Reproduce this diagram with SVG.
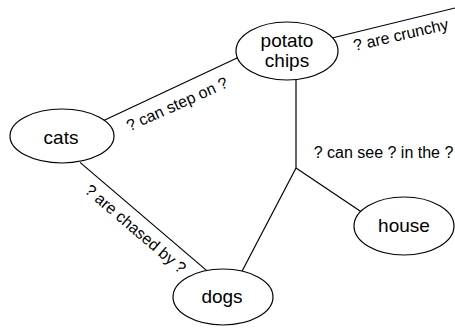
<svg xmlns="http://www.w3.org/2000/svg" width="455" height="329" viewBox="0 0 455 329">
<style>
.node ellipse{fill:#fff;stroke:#000;stroke-width:1.2}
.node text{font-family:"Liberation Sans",Arial,sans-serif;font-size:19px;fill:#000;text-anchor:middle}
.edges line{stroke:#000;stroke-width:1.2}
.lbl{font-family:"Liberation Sans",Arial,sans-serif;font-size:16px;fill:#000;text-anchor:middle}
</style>
<rect width="455" height="329" fill="#fff"/>
<g class="edges" id="connectors">
<line x1="100" y1="122.3" x2="245" y2="54.2"/>
<line x1="330" y1="38.5" x2="455" y2="8"/>
<line x1="296" y1="72" x2="296" y2="168"/>
<line x1="296" y1="168" x2="366" y2="215"/>
<line x1="296" y1="168" x2="239" y2="277"/>
<line x1="80" y1="162.4" x2="210" y2="273.4"/>
<text class="lbl" transform="translate(179.3 109.1) rotate(-24.2)">? can step on ?</text>
<text class="lbl" transform="translate(402 40) rotate(-13)">? are crunchy</text>
<text class="lbl" x="383.5" y="158">? can see ? in the ?</text>
<text class="lbl" transform="translate(132 233) rotate(40.5)">? are chased by ?</text>
</g>
<g class="node" id="potato-chips">
<ellipse cx="287" cy="51" rx="51" ry="29"/>
<text x="287" y="46.5">potato</text>
<text x="287" y="66.5">chips</text>
</g>
<g class="node" id="cats">
<ellipse cx="62" cy="136" rx="52" ry="27"/>
<text x="61" y="144">cats</text>
</g>
<g class="node" id="dogs">
<ellipse cx="223" cy="297" rx="50" ry="28"/>
<text x="222" y="303.3">dogs</text>
</g>
<g class="node" id="house">
<ellipse cx="404" cy="226" rx="50" ry="29"/>
<text x="404" y="231.7">house</text>
</g>
</svg>
